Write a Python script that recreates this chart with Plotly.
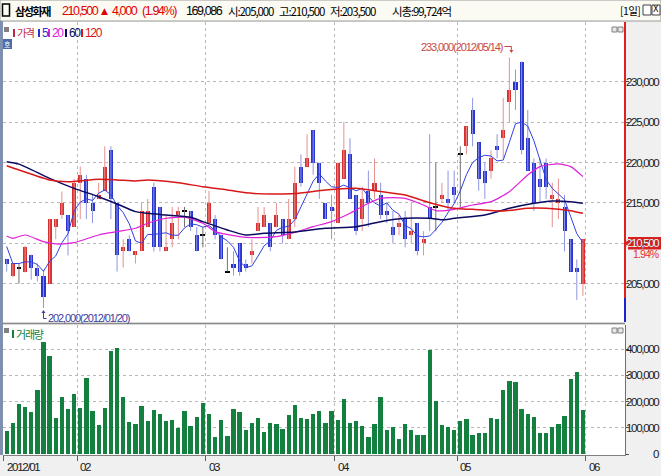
import numpy as np
import pandas as pd
import plotly.graph_objects as go

# ---------------- data ----------------
holidays = ["2012-01-23", "2012-01-24", "2012-03-01", "2012-04-11", "2012-05-01", "2012-05-28"]
dates = pd.bdate_range("2012-01-12", "2012-05-31")
dates = dates[~dates.isin(pd.to_datetime(holidays))]

opens = [208000, 205900, 206900, 206400, 208500, 206900, 206000, 205000, 212000, 213500,
         213500, 212000, 217500, 218000, 215000, 215500, 216500, 221500, 215000, 209000,
         210500, 208500, 209000, 212000, 217000, 214500, 209000, 210500, 213500, 214000,
         214000, 211000, 211000, 212500, 213000, 211000, 206500, 207500, 210000, 207500,
         208500, 211500, 212000, 212500, 212000, 213000, 210500, 213000, 219500, 219500,
         224000, 220000, 215000, 214500, 212500, 218000, 221000, 216000, 213000, 216500,
         216500, 216000, 214000, 212000, 212000, 213000, 211000, 212500, 210000, 214500,
         214500, 215500, 215500, 217000, 221000, 222000, 226500, 222500, 219000, 219000,
         222000, 223000, 227500, 230000, 232500, 223000, 220000, 218000, 220000, 215500,
         215000, 214500, 210500, 207000, 205000]
highs = [208000, 207600, 207500, 209700, 208600, 207500, 206700, 213000, 213000, 216400,
         213500, 218000, 219500, 218500, 216000, 217500, 222000, 222000, 215000, 210500,
         211000, 209000, 215000, 215500, 217500, 214500, 213500, 214500, 214500, 214500,
         214000, 212000, 212000, 216500, 213500, 211000, 209500, 209000, 210000, 208000,
         210500, 214500, 214500, 212500, 215000, 213000, 215500, 219500, 221000, 223500,
         224000, 220000, 215000, 216000, 220000, 225000, 223000, 216000, 217000, 219000,
         220500, 217500, 215000, 214000, 213500, 214000, 215000, 212500, 211500, 223500,
         220000, 217500, 219000, 219000, 222000, 224500, 228000, 222500, 220000, 221500,
         223500, 228000, 233000, 231500, 232500, 226500, 220500, 220500, 220500, 217500,
         218000, 216000, 210500, 208000, 210500]
lows = [206500, 205800, 205000, 206400, 205500, 205300, 202000, 205000, 210500, 213000,
        208500, 212000, 213000, 213000, 212500, 215500, 216500, 213000, 206500, 207000,
        209000, 207500, 209000, 212000, 209000, 209000, 209000, 209500, 210500, 212000,
        211500, 209000, 209500, 212500, 210500, 208000, 206500, 206000, 206000, 206500,
        207500, 211500, 212000, 209000, 212000, 210000, 210500, 212000, 217000, 219500,
        218500, 215500, 213000, 210500, 212500, 218000, 215500, 211000, 211500, 212000,
        215500, 213000, 212500, 210000, 211000, 209500, 210000, 208500, 208500, 211500,
        211500, 215000, 214000, 215000, 214500, 221000, 222000, 216500, 215500, 218000,
        220500, 220500, 225000, 226500, 221000, 219000, 214000, 215000, 215500, 212000,
        213000, 209000, 206500, 203000, 203500]
closes = [207500, 207600, 206900, 209600, 206900, 205900, 203400, 213000, 213000, 215000,
          211500, 217500, 218500, 215000, 214000, 216000, 219500, 215500, 208500, 209500,
          209000, 209000, 214000, 214000, 209500, 209500, 209500, 212500, 214000, 214000,
          212000, 209000, 211000, 215000, 211000, 208000, 206500, 207000, 206500, 207000,
          209000, 212500, 213500, 209500, 213500, 211000, 213000, 217500, 217500, 220500,
          220000, 217500, 213000, 214000, 220000, 221500, 215500, 211500, 215500, 215000,
          217500, 213500, 213500, 211000, 212500, 210500, 211500, 209000, 210500, 213000,
          214500, 216000, 215000, 216000, 221000, 224500, 223500, 218000, 217500, 220500,
          221500, 224000, 229000, 229000, 221500, 219000, 215000, 217000, 217000, 216000,
          215500, 211500, 206500, 206500, 210500]
volumes = [88, 119, 192, 181, 162, 246, 427, 373, 138, 219, 173, 227,
           177, 288, 165, 112, 177, 392, 405, 219, 123, 115, 185, 127, 169, 154, 127, 131,
           100, 165, 108, 142, 196,
           154, 65, 131, 69, 173, 162, 92, 119, 138, 85, 119, 115, 96, 150, 188, 138, 135,
           154, 165, 119, 165,
           131, 208, 120, 127, 108, 66, 116, 219, 93, 104, 59, 116, 93, 74, 74, 395, 204,
           112, 104, 93,
           127, 135, 73, 81, 81, 139, 135, 246, 277, 273, 173, 154, 143, 81, 81, 104, 116,
           146, 287, 311, 169]
volumes = [v * 1000 for v in volumes]
volumes[-1] = 169086

# MA5 values read for the first bars (earlier closes are off-chart)
ma5_head = [209600, 207500, 207500, 207700]
# Moving averages (bar index, value)
ma20_idx = [0, 1, 3, 6, 8, 11, 15, 18, 21, 23, 26, 29, 32, 34, 38, 40, 44, 47, 50, 53, 56,
            59, 61, 65, 68, 70, 73, 76, 79, 82, 85, 87, 90, 92, 94]
ma20_val = [210900, 210620, 211030, 210200, 209920, 210080, 211030, 211440, 211860, 212480,
            213100, 213220, 212480, 211440, 210830, 210700, 210830, 211350, 212060, 212680,
            213710, 214950, 215570, 215570, 214740, 214040, 214200, 214740, 215150, 216390,
            218450, 219490, 219820, 219490, 218250]
ma60_idx = [0, 2, 7, 11, 15, 18, 21, 23, 26, 30, 32, 36, 39, 42, 47, 52, 57, 61, 65, 69, 71,
            73, 78, 82, 86, 89, 92, 94]
ma60_val = [220100, 219800, 218040, 216800, 215770, 214870, 213920, 213710, 213500, 213220,
            212680, 211650, 211030, 211240, 211400, 211860, 212060, 212680, 213090, 213090,
            212900, 213090, 213500, 214330, 214950, 215240, 215150, 214950]
ma120_idx = [0, 2, 7, 10, 15, 18, 21, 23, 28, 32, 36, 40, 43, 47, 52, 57, 61, 65, 69, 73,
             76, 81, 85, 88, 92, 94]
ma120_val = [219600, 219075, 217840, 217630, 217920, 217840, 217710, 217840, 217500, 217000,
             216600, 216190, 216100, 216150, 216600, 216800, 216400, 215980, 215030, 214330,
             214200, 214000, 214330, 214330, 214040, 213710]

price_ticks = [205000, 210000, 215000, 220000, 225000, 230000]
vol_ticks = [0, 100000, 200000, 300000, 400000]
month_labels = ["2012/01", "02", "03", "04", "05", "06"]

# ---------------- geometry helpers ----------------
W, H = 661, 476
ML, MR, MT, MB = 3, 36, 22, 21
PW, PH = W - ML - MR, H - MT - MB


def PX(x):
    return (x - ML) / PW


def PY(y):
    return (H - MB - y) / PH


NUM = "Liberation Sans, Arial, sans-serif"
KR = "Noto Sans CJK KR, sans-serif"

n = len(closes)
idx = np.arange(n)
o = np.array(opens); c = np.array(closes); h = np.array(highs); l = np.array(lows)
up = c > o
dn = c < o
dj = c == o

RED = "#d83030"
BLUE = "#2a34d0"
RED_W = "#e79090"
BLUE_W = "#8f96e2"

fig = go.Figure()


def wick_xy(mask):
    xs, ys = [], []
    for i in idx[mask]:
        xs += [i, i, None]
        ys += [l[i], h[i], None]
    return xs, ys


for mask, col in [(up, RED_W), (dn, BLUE_W), (dj, "#707070")]:
    xs, ys = wick_xy(mask)
    fig.add_trace(go.Scatter(x=xs, y=ys, mode="lines", line=dict(color=col, width=1),
                             hoverinfo="skip", showlegend=False, xaxis="x", yaxis="y"))

BW = 0.66
fig.add_trace(go.Bar(x=idx[up], y=(c - o)[up], base=o[up], width=BW, marker=dict(color=RED, line_width=0),
                     showlegend=False, xaxis="x", yaxis="y"))
fig.add_trace(go.Bar(x=idx[dn], y=(o - c)[dn], base=c[dn], width=BW, marker=dict(color=BLUE, line_width=0),
                     showlegend=False, xaxis="x", yaxis="y"))
fig.add_trace(go.Bar(x=idx[dj], y=[130] * int(dj.sum()), base=o[dj] - 65, width=0.8,
                     marker=dict(color="#000000", line_width=0), showlegend=False, xaxis="x", yaxis="y"))

# moving averages
ma5 = pd.Series(closes, dtype=float).rolling(5).mean().to_numpy()
ma5[:4] = ma5_head
fig.add_trace(go.Scatter(x=idx, y=ma5, mode="lines", line=dict(color="#3040e0", width=1),
                         showlegend=False, xaxis="x", yaxis="y"))
fig.add_trace(go.Scatter(x=ma20_idx, y=ma20_val, mode="lines", line=dict(color="#e020d8", width=1.2, shape="spline", smoothing=0.6),
                         showlegend=False, xaxis="x", yaxis="y"))
fig.add_trace(go.Scatter(x=ma60_idx, y=ma60_val, mode="lines", line=dict(color="#0a0a60", width=1.5, shape="spline", smoothing=0.6),
                         showlegend=False, xaxis="x", yaxis="y"))
fig.add_trace(go.Scatter(x=ma120_idx, y=ma120_val, mode="lines", line=dict(color="#d81818", width=1.5, shape="spline", smoothing=0.6),
                         showlegend=False, xaxis="x", yaxis="y"))

# volume
fig.add_trace(go.Bar(x=idx, y=volumes, width=0.7, marker=dict(color="#14803f", line_width=0),
                     showlegend=False, xaxis="x2", yaxis="y2"))

# month boundaries
month_start = [0] + [i for i in range(1, n) if dates[i].month != dates[i - 1].month] + [n]
bounds = [m - 0.5 for m in month_start]

XR = [(ML - 6.7) / 6.13, (W - MR - 6.7) / 6.13]
p_top = 210000 + (243.3 - MT) / 8.08 * 1000
p_bot = 210000 - (322 - 243.3) / 8.08 * 1000

grid = dict(showgrid=True, gridcolor="#b8b8b8", griddash="dot", gridwidth=1)
fig.update_layout(
    width=W, height=H, margin=dict(l=ML, r=MR, t=MT, b=MB),
    paper_bgcolor="#f0f0f0", plot_bgcolor="#ffffff", barmode="overlay", bargap=0,
    xaxis=dict(domain=[0, 1], range=XR, anchor="y", tickvals=bounds, showticklabels=False,
               zeroline=False, ticks="", **grid),
    xaxis2=dict(domain=[0, 1], range=XR, anchor="y2", matches="x", tickvals=bounds,
                showticklabels=False, zeroline=False, ticks="outside", ticklen=5, tickcolor="#606060",
                showline=True, linecolor="#808080", **grid),
    yaxis=dict(domain=[PY(322), 1], range=[p_bot, p_top], side="right", tickvals=price_ticks,
               showticklabels=False, ticks="outside", ticklen=3, tickcolor="#505050",
               zeroline=False, **grid),
    yaxis2=dict(domain=[0, PY(325)], range=[-3800, 492000], side="right", tickvals=vol_ticks,
                showticklabels=False, ticks="outside", ticklen=3, tickcolor="#505050",
                zeroline=False, showline=True, linecolor="#707070", **grid),
    showlegend=False,
)

shapes = []
ann = []


def rect(x0, y0, x1, y1, fill=None, line=None, lw=1):
    shapes.append(dict(type="rect", xref="paper", yref="paper", x0=PX(x0), x1=PX(x1),
                       y0=PY(y0), y1=PY(y1), fillcolor=fill or "rgba(0,0,0,0)",
                       line=dict(color=line or "rgba(0,0,0,0)", width=lw if line else 0)))


def hline(x0, x1, y, color, w=1):
    shapes.append(dict(type="line", xref="paper", yref="paper", x0=PX(x0), x1=PX(x1), y0=PY(y), y1=PY(y),
                       line=dict(color=color, width=w)))


def vline(x, y0, y1, color, w=1):
    shapes.append(dict(type="line", xref="paper", yref="paper", x0=PX(x), x1=PX(x), y0=PY(y0), y1=PY(y1),
                       line=dict(color=color, width=w)))


def txt(x, y, s, color="#000", size=11, family=NUM, xanchor="left", ls=None):
    if ls is not None:
        s = f"<span style='letter-spacing:{ls}px'>{s}</span>"
    ann.append(dict(x=PX(x), y=PY(y), xref="paper", yref="paper", text=s, showarrow=False,
                    xanchor=xanchor, yanchor="middle", borderpad=0,
                    font=dict(color=color, size=size, family=family)))


# header
rect(0, 0, W, 21, fill="#fbfbf4", line="#9a9a9a")
rect(2.5, 4, 9.5, 16, line="#000", lw=1.5)
txt(14, 10.5, "<b>삼성화재</b>", "#000", 11, KR, ls=-1.4)
txt(61, 10.5, "210,500", "#e00000", 12.5, ls=-1.4)
txt(100, 10.5, "▲", "#e00000", 9, "DejaVu Sans")
txt(111, 10.5, "4,000", "#e00000", 12.5, ls=-1.4)
txt(141, 10.5, "(1.94%)", "#e00000", 12.5, ls=-1.4)
txt(185, 10.5, "169,086", "#000", 12.5, ls=-1.4)
txt(227, 10.5, "시:205,000", "#000", 11.5, KR, ls=-1.1)
txt(278, 10.5, "고:210,500", "#000", 11.5, KR, ls=-1.1)
txt(329, 10.5, "저:203,500", "#000", 11.5, KR, ls=-1.1)
txt(391, 10.5, "시총:99,724억", "#000", 11.5, KR, ls=-1.1)
txt(619, 10.5, "[1일]", "#000", 10.5, KR, ls=-0.6)
rect(643, 5, 651, 15, fill="#ffffff", line="#404040")
rect(652, 5, 660, 15, fill="#ffffff", line="#404040")
txt(656, 10, "X", "#000", 8, "DejaVu Sans", xanchor="center")

# left border
rect(0, 21, 3, 455, fill="#7f8fb0")
# pane separator
hline(3, 625, 323.5, "#8a8a8a", 1.5)

# price axis line: red / blue
vline(625, 22, 298, "#e02020", 2)
vline(625, 298, 322, "#2020d0", 2)

# axis labels
for v in price_ticks:
    y = 243.3 - (v - 210000) * 8.08 / 1000
    txt(660, y, f"{v:,}", "#202020", 11.5, xanchor="right", ls=-1.3)
for v in vol_ticks:
    y = 454 - v * 26.2 / 100000
    txt(660, y, f"{v:,}", "#202020", 11.5, xanchor="right", ls=-1.3)

# current price tag
rect(628, 237, 661, 249.5, fill="#d82020")
shapes.append(dict(type="path", xref="paper", yref="paper",
                   path=f"M {PX(625)},{PY(243.3)} L {PX(628.5)},{PY(239)} L {PX(628.5)},{PY(247.5)} Z",
                   fillcolor="#d82020", line=dict(width=0)))
txt(660, 243.3, "210,500", "#ffffff", 11.5, xanchor="right", ls=-1.3)
txt(660, 254.5, "1.94%", "#e03030", 10.5, xanchor="right", ls=-0.9)

# legends
rect(4, 27, 9, 32, fill="#808080")
items = [("가격", "#c02848", 13, KR), ("5", "#2a34d0", 38, NUM), ("20", "#e020d8", 48, NUM),
         ("60", "#0a0a60", 65, NUM), ("120", "#d81818", 81, NUM)]
for s, col, x0, fam in items:
    rect(x0, 29, x0 + 2, 37, fill=col)
    txt(x0 + 3, 33, s, col, 10.5 if fam == KR else 12, fam, ls=-1.3)
rect(3, 39, 12, 49, fill="#4d6aa8")
txt(7.5, 44, "호", "#ffffff", 7, KR, xanchor="center")

rect(4, 328, 9, 333, fill="#808080")
rect(12, 330, 14, 338, fill="#14803f")
txt(15, 334, "거래량", "#14803f", 11, KR, ls=-1.2)

# pane icons
for yy in (27, 328):
    rect(612, yy, 617, yy + 5, fill="#e8e8e8", line="#808080")
    rect(618, yy, 623, yy + 5, fill="#e8e8e8", line="#808080")

# month labels
for b, lab in zip(bounds, month_labels):
    xpix = 6.7 + b * 6.13
    txt(max(xpix, 3) + 2, 467, lab, "#202020", 11.5, ls=-1.3)

# high / low markers
hi_i = int(np.argmax(h))
lo_i = int(np.argmin(l))
hx = 6.7 + hi_i * 6.13
txt(hx - 5, 47, f"{h[hi_i]:,}({dates[hi_i]:%Y/%m/%d})", "#c84848", 11, xanchor="right", ls=-1.1)
hline(hx - 5, hx + 2, 46.5, "#c84848", 1)
vline(hx + 2, 46.5, 52, "#c84848", 1)
shapes.append(dict(type="path", xref="paper", yref="paper",
                   path=f"M {PX(hx)},{PY(50)} L {PX(hx + 4)},{PY(50)} L {PX(hx + 2)},{PY(53)} Z",
                   fillcolor="#c84848", line=dict(width=0)))
lx = 6.7 + lo_i * 6.13
txt(lx + 4, 318, f"{l[lo_i]:,}({dates[lo_i]:%Y/%m/%d})", "#4040a0", 11, ls=-1.1)
vline(lx, 311, 318.5, "#4040a0", 1)
hline(lx, lx + 3, 318.5, "#4040a0", 1)
shapes.append(dict(type="path", xref="paper", yref="paper",
                   path=f"M {PX(lx - 2)},{PY(313)} L {PX(lx + 2)},{PY(313)} L {PX(lx)},{PY(310)} Z",
                   fillcolor="#4040a0", line=dict(width=0)))

fig.update_layout(shapes=shapes, annotations=ann)
fig.write_html("out.html")
